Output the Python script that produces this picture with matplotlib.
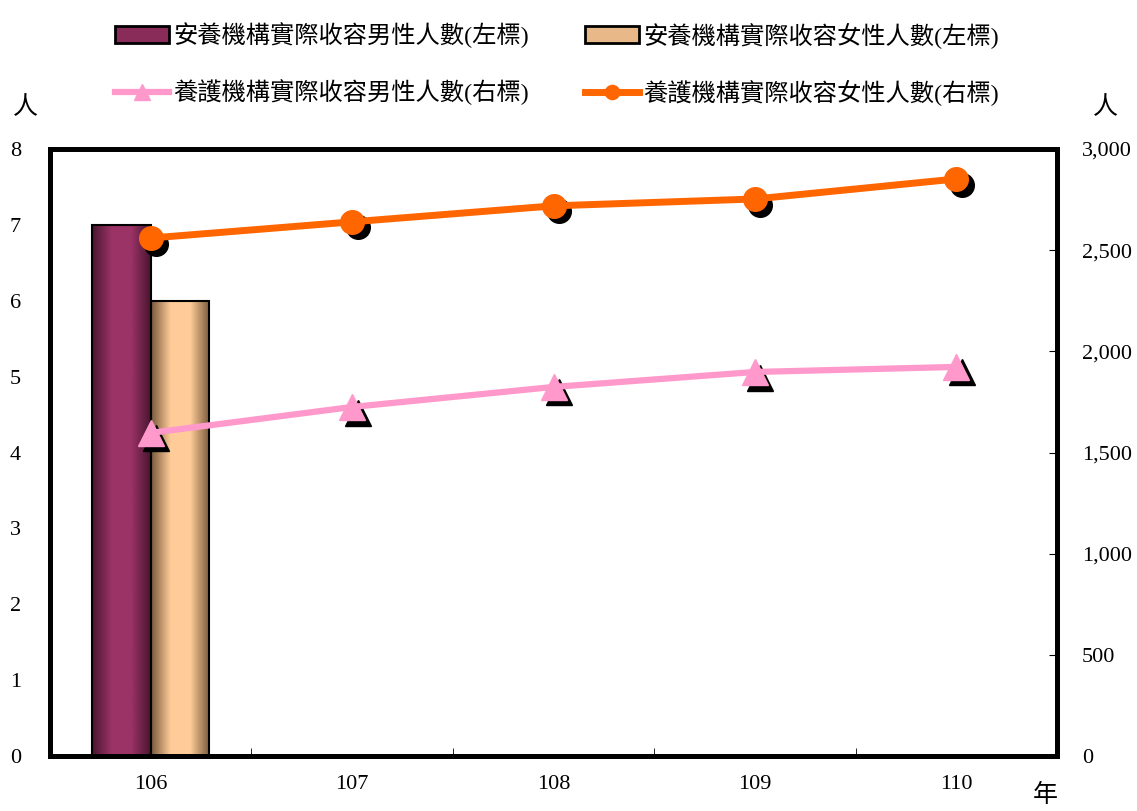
import matplotlib.pyplot as plt
import matplotlib.transforms as mtransforms
from matplotlib.colors import LinearSegmentedColormap
from matplotlib.patches import Patch
import numpy as np

plt.rcParams['font.family'] = ['Liberation Serif', 'Noto Sans CJK TC']

years = ['106', '107', '108', '109', '110']
# 安養機構 (left axis), only 106 has values
an_male = [7, 0, 0, 0, 0]
an_female = [6, 0, 0, 0, 0]
# 養護機構 (right axis)
yang_male = [1597, 1725, 1824, 1898, 1923]
yang_female = [2560, 2640, 2719, 2753, 2852]

fig = plt.figure(figsize=(11.37, 8.11), dpi=100)
ax = fig.add_axes([50 / 1137, 1 - 756 / 811, 1007 / 1137, 607 / 811])
ax2 = ax.twinx()

x = np.arange(len(years))
w = 0.29


def cyl_bar(axis, xs, hs, dark, mid, label):
    bars = axis.bar(xs, hs, width=w, facecolor='none', edgecolor='black',
                    linewidth=1.5, label=label, zorder=3)
    cmap = LinearSegmentedColormap.from_list('c', [dark, mid, mid, dark])
    grad = np.linspace(0, 1, 100).reshape(1, -1)
    for b in bars:
        if b.get_height() <= 0:
            continue
        x0, y0 = b.get_x(), b.get_y()
        im = axis.imshow(grad, cmap=cmap, aspect='auto', zorder=2,
                         extent=[x0, x0 + b.get_width(), y0, y0 + b.get_height()])
        im.set_clip_path(b)
    return bars


b1 = cyl_bar(ax, x - w / 2, an_male, '#4a1530', '#9b3366', '安養機構實際收容男性人數(左標)')
b2 = cyl_bar(ax, x + w / 2, an_female, '#7a5a3c', '#ffcc99', '安養機構實際收容女性人數(左標)')

ax.set_xlim(-0.5, 4.5)
ax.set_ylim(0, 8)
ax2.set_ylim(0, 3000)

# marker shadows
shadow = mtransforms.offset_copy(ax2.transData, fig=fig, x=4, y=-4, units='points')
ax2.plot(x, yang_male, linestyle='none', marker='^', markersize=19, color='black',
         transform=shadow, zorder=4)
ax2.plot(x, yang_female, linestyle='none', marker='o', markersize=17, color='black',
         transform=shadow, zorder=4)

l1, = ax2.plot(x, yang_male, color='#ff99cc', linewidth=4.5, marker='^', markersize=19,
               label='養護機構實際收容男性人數(右標)', zorder=5)
l2, = ax2.plot(x, yang_female, color='#ff6600', linewidth=5, marker='o', markersize=17,
               label='養護機構實際收容女性人數(右標)', zorder=5)

ax.set_xticks(x)
ax.set_xticklabels(years)
ax.set_xticks(np.arange(-0.5, 5, 1), minor=True)
ax.tick_params(axis='x', which='major', length=0, pad=14, labelsize=16)
ax.tick_params(axis='x', which='minor', direction='in', length=6)
ax.set_yticks(range(0, 9))
ax.tick_params(axis='y', direction='in', length=0, pad=21, labelsize=16)
ax2.set_yticks(range(0, 3001, 500))
ax2.set_yticklabels([f'{v:,}' for v in range(0, 3001, 500)])
ax2.tick_params(axis='y', direction='in', length=6, pad=18, labelsize=16)

for a in (ax, ax2):
    for s in a.spines.values():
        s.set_linewidth(3.5)

fig.text(25 / 1137, 1 - 108 / 811, '人', fontsize=18, ha='center', va='center')
fig.text(1105 / 1137, 1 - 108 / 811, '人', fontsize=18, ha='center', va='center')
fig.text(1045 / 1137, 1 - 795 / 811, '年', fontsize=18, ha='center', va='center')

h1 = Patch(facecolor='#8a2c5a', edgecolor='black', linewidth=2)
h2 = Patch(facecolor='#e8b888', edgecolor='black', linewidth=2)
fig.legend([h1, l1, h2, l2],
           [b1.get_label(), l1.get_label(), b2.get_label(), l2.get_label()],
           ncol=2, loc='upper center', bbox_to_anchor=(0.49, 1.0), frameon=False,
           fontsize=17.5, handlelength=2.2, handleheight=0.7, labelspacing=1.3,
           columnspacing=2.3, handletextpad=0.2, markerscale=0.6)

fig.savefig('out.png', dpi=100)
